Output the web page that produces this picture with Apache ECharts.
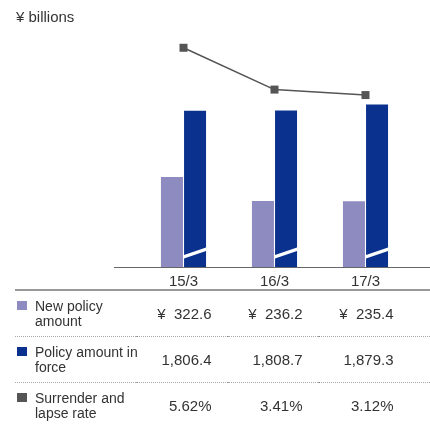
<!DOCTYPE html>
<html>
<head>
<meta charset="utf-8">
<script src="https://cdn.jsdelivr.net/npm/echarts@6/dist/echarts.min.js"></script>
<style>
  html, body { margin: 0; padding: 0; background: #fff; }
  #main { width: 430px; height: 424px; }
</style>
</head>
<body>
<div id="main"></div>
<script>
  // data
  var categories = ['15/3', '16/3', '17/3'];
  var newPolicy = [322.6, 236.2, 235.4];
  var inForce = [1806.4, 1808.7, 1879.3];
  var lapseRate = [5.62, 3.41, 3.12];
  var rowLabels = ['New policy\namount', 'Policy amount in\nforce', 'Surrender and\nlapse rate'];
  var unitLabel = '¥ billions';

  var lightColor = '#8e8bc1';
  var darkColor = '#0a318d';
  var grayColor = '#555555';
  var textColor = '#333333';
  var font = '"Liberation Sans", Arial, sans-serif';
  var barW = 22;

  var myChart = echarts.init(document.getElementById('main'));

  var option = {
    animation: false,
    grid: { left: 138, right: 19, top: 30, bottom: 157 },
    xAxis: {
      type: 'category',
      data: categories,
      axisLine: { show: false },
      axisTick: { show: false },
      axisLabel: { fontSize: 15, color: textColor, fontFamily: font, margin: 7 }
    },
    yAxis: [
      { type: 'value', min: 0, max: 849, show: false },
      // policy amount in force is drawn on a broken (compressed) scale
      { type: 'value', min: 0, max: 2739, show: false },
      { type: 'value', min: -5.97, max: 6.56, show: false }
    ],
    series: [
      {
        name: 'New policy amount', type: 'bar', yAxisIndex: 0,
        data: newPolicy, barWidth: barW, barGap: '5%',
        itemStyle: { color: lightColor }
      },
      {
        name: 'Policy amount in force', type: 'bar', yAxisIndex: 1,
        data: inForce, barWidth: barW, barGap: '5%',
        itemStyle: { color: darkColor }
      },
      {
        // white slash = axis break on the dark bars
        type: 'custom', yAxisIndex: 1, z: 5,
        data: categories.map(function (c, i) { return [i, 0]; }),
        renderItem: function (params, api) {
          var p = api.coord([api.value(0), 0]);
          var x0 = p[0] + 0.5, x1 = x0 + barW, y = p[1];
          return {
            type: 'polygon',
            shape: { points: [[x0, y - 8.5], [x1, y - 16], [x1, y - 19.5], [x0, y - 12]] },
            style: { fill: '#fff' }
          };
        }
      },
      {
        name: 'Surrender and lapse rate', type: 'line', yAxisIndex: 2,
        data: lapseRate, symbol: 'rect', symbolSize: 8, z: 6,
        itemStyle: { color: grayColor },
        lineStyle: { color: grayColor, width: 1.5 }
      }
    ]
  };
  myChart.setOption(option);

  // table under the chart
  var rowY = [315, 361, 407];
  var rowColors = [lightColor, darkColor, grayColor];
  var rowTexts = [
    newPolicy.map(function (v) { return '¥  ' + v.toFixed(1); }),
    inForce.map(function (v) { return v.toLocaleString('en-US', { minimumFractionDigits: 1, maximumFractionDigits: 1 }); }),
    lapseRate.map(function (v) { return v.toFixed(2) + '%'; })
  ];
  var centers = categories.map(function (c) { return myChart.convertToPixel({ xAxisIndex: 0 }, c); });

  var g = [];
  g.push({ type: 'text', left: 16, top: 10, style: { text: unitLabel, fontSize: 15, fill: textColor, font: '15px ' + font } });
  g.push({ type: 'line', shape: { x1: 114, y1: 267.5, x2: 430, y2: 267.5 }, style: { stroke: '#666', lineWidth: 1 } });
  g.push({ type: 'line', shape: { x1: 15, y1: 290, x2: 430, y2: 290 }, style: { stroke: '#999', lineWidth: 2 } });
  [336.5, 382.5].forEach(function (y) {
    g.push({ type: 'line', shape: { x1: 15, y1: y, x2: 430, y2: y }, style: { stroke: '#aaa', lineWidth: 1, lineDash: [1, 1] } });
    centers.forEach(function (cx) {
      g.push({ type: 'rect', shape: { x: cx - 47, y: y - 0.5, width: 1, height: 1 }, style: { fill: '#555' } });
    });
  });
  rowLabels.forEach(function (lab, r) {
    g.push({ type: 'rect', shape: { x: 17, y: rowY[r] - 14, width: 10, height: 9 }, style: { fill: rowColors[r] } });
    g.push({
      type: 'text', x: 35, y: rowY[r],
      style: { text: lab, font: '14px ' + font, fill: textColor, lineHeight: 15, verticalAlign: 'middle' }
    });
    rowTexts[r].forEach(function (t, i) {
      g.push({
        type: 'text', x: centers[i] + 28, y: rowY[r],
        style: { text: t, font: '15px ' + font, fill: textColor, align: 'right', verticalAlign: 'middle' }
      });
    });
  });
  myChart.setOption({ graphic: g });
</script>
</body>
</html>
